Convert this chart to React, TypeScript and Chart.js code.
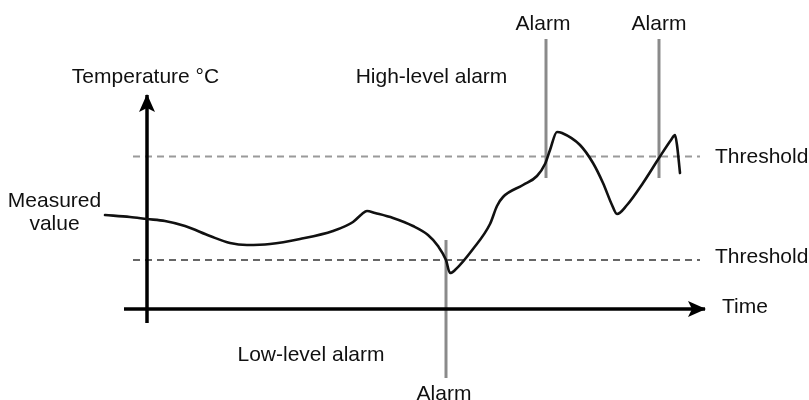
import React, { useEffect, useRef } from "react";
import { Chart, registerables } from "chart.js";

Chart.register(...registerables);

// Measured temperature curve (time units, °C units)
const timeValues = [
  -8.4, -3.4, 0, 3.6, 7.6, 12.6, 16.6, 20, 24.6, 30.6, 37.2, 41.2, 43, 44, 45.6, 49.2,
  53.2, 56.2, 58.2, 59.8, 60.6, 61.6, 65.2, 68.6, 70, 71.2, 75.2, 78, 79.6, 80.6, 82,
  83, 86.6, 89.2, 91.2, 93, 94, 96, 99.2, 102.4, 104.8, 105.6, 106, 106.6,
];
const tempValues = [
  37.6, 36.8, 36, 35.2, 33.2, 29.2, 26.4, 25.6, 26, 28, 31.2, 34.8, 38, 39.2, 38.4, 36.4,
  33.2, 29.6, 25.2, 19.6, 14.4, 15.6, 24, 34, 41.2, 44.8, 49.6, 53.2, 58, 63.6, 70.8,
  70.4, 65.6, 58.4, 50.4, 41.6, 38, 41.6, 50.4, 60.4, 67.6, 69.6, 65.6, 54.4,
];

// Thresholds
const highThreshold = 61;
const lowThreshold = 19.6;
const thresholdSpan = [-2.8, 110.6];

// Alarm markers: time, [bottom, top]
const alarmTimes = [59.8, 79.8, 102.4];
const alarmRanges = [
  [-27.6, 27.6],
  [52.4, 108],
  [52.4, 108],
];

// Axes extents
const timeAxisSpan = [-4.6, 111.6];
const tempAxisSpan = [-5.6, 85.6];

// Text labels
const labelTexts = [
  "Temperature °C",
  "High-level alarm",
  "Alarm",
  "Alarm",
  "Threshold",
  "Threshold",
  "Time",
  "Measured",
  "value",
  "Low-level alarm",
  "Alarm",
];
const labelTimes = [-0.3, 56.9, 79.2, 102.4, 113.6, 113.6, 115, -18.5, -18.5, 32.8, 59.4];
const labelTemps = [90.6, 90.6, 111.6, 111.6, 58.4, 18.4, -1.6, 40.8, 31.6, -20.8, -36.2];
const labelAligns = [
  "center", "center", "center", "center", "left", "left", "left", "center", "center", "center", "center",
];

const arrowPlugin = {
  id: "arrowHeads",
  afterDatasetsDraw(chart: any) {
    const ctx = chart.ctx;
    chart.data.datasets.forEach((ds: any, i: number) => {
      if (!ds.arrow) return;
      const meta = chart.getDatasetMeta(i);
      const pts = meta.data;
      if (pts.length < 2) return;
      const a = pts[pts.length - 2];
      const b = pts[pts.length - 1];
      const ang = Math.atan2(b.y - a.y, b.x - a.x);
      const len = 17;
      const half = 8;
      ctx.save();
      ctx.translate(b.x, b.y);
      ctx.rotate(ang);
      ctx.beginPath();
      ctx.moveTo(1, 0);
      ctx.lineTo(-len, -half);
      ctx.lineTo(-len + 4, 0);
      ctx.lineTo(-len, half);
      ctx.closePath();
      ctx.fillStyle = ds.borderColor;
      ctx.fill();
      ctx.restore();
    });
  },
};

const labelPlugin = {
  id: "textLabels",
  afterDraw(chart: any) {
    const ctx = chart.ctx;
    const xs = chart.scales.x;
    const ys = chart.scales.y;
    ctx.save();
    ctx.font = '21px "Liberation Sans", Arial, sans-serif';
    ctx.fillStyle = "#111";
    ctx.textBaseline = "alphabetic";
    labelTexts.forEach((t, i) => {
      ctx.textAlign = labelAligns[i] as CanvasTextAlign;
      ctx.fillText(t, xs.getPixelForValue(labelTimes[i]), ys.getPixelForValue(labelTemps[i]));
    });
    ctx.restore();
  },
};

export default function App() {
  const ref = useRef<HTMLCanvasElement | null>(null);

  useEffect(() => {
    if (!ref.current) return;
    const line = (data: any[], color: string, width: number, extra: any = {}) => ({
      data,
      showLine: true,
      borderColor: color,
      backgroundColor: color,
      borderWidth: width,
      pointRadius: 0,
      pointHoverRadius: 0,
      fill: false,
      ...extra,
    });

    const datasets: any[] = [
      line(
        timeValues.map((t, i) => ({ x: t, y: tempValues[i] })),
        "#111",
        2.6,
        { cubicInterpolationMode: "monotone", order: 0, borderCapStyle: "round", borderJoinStyle: "round" }
      ),
      line(
        [
          { x: timeAxisSpan[0], y: 0 },
          { x: timeAxisSpan[1], y: 0 },
        ],
        "#000",
        3.5,
        { arrow: true, order: 1 }
      ),
      line(
        [
          { x: 0, y: tempAxisSpan[0] },
          { x: 0, y: tempAxisSpan[1] },
        ],
        "#000",
        3.5,
        { arrow: true, order: 1 }
      ),
      ...alarmTimes.map((t, i) =>
        line(
          [
            { x: t, y: alarmRanges[i][0] },
            { x: t, y: alarmRanges[i][1] },
          ],
          "#8a8a8a",
          3,
          { order: 2 }
        )
      ),
      line(
        [
          { x: thresholdSpan[0], y: highThreshold },
          { x: thresholdSpan[1], y: highThreshold },
        ],
        "#9a9a9a",
        2.2,
        { borderDash: [7, 5], order: 3 }
      ),
      line(
        [
          { x: thresholdSpan[0], y: lowThreshold },
          { x: thresholdSpan[1], y: lowThreshold },
        ],
        "#666",
        2.2,
        { borderDash: [7, 5], order: 3 }
      ),
    ];

    const chart = new Chart(ref.current, {
      type: "scatter",
      data: { datasets },
      options: {
        animation: false,
        responsive: false,
        devicePixelRatio: 1,
        layout: { padding: 0 },
        events: [],
        scales: {
          x: { type: "linear", min: -29.4, max: 132.4, display: false },
          y: { type: "linear", min: -36.4, max: 123.6, display: false },
        },
        plugins: {
          legend: { display: false },
          tooltip: { enabled: false },
        },
      } as any,
      plugins: [arrowPlugin, labelPlugin],
    });
    return () => chart.destroy();
  }, []);

  return (
    <div style={{ position: "absolute", left: 0, top: 0, width: 809, height: 400, background: "#fff" }}>
      <canvas ref={ref} width={809} height={400} />
    </div>
  );
}
